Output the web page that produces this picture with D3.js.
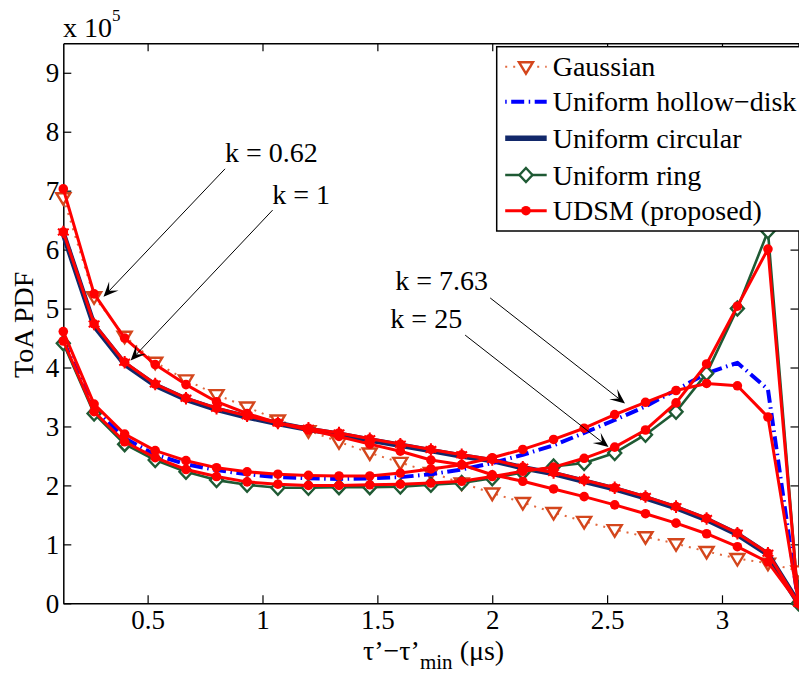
<!DOCTYPE html>
<html>
<head>
<meta charset="utf-8">
<script src="https://cdn.jsdelivr.net/npm/d3@7"></script>
<style>
  html, body { margin: 0; padding: 0; background: #fff; }
  svg { display: block; }
  svg text { font-family: "Liberation Serif", "Tinos", "Times New Roman", Times, "DejaVu Serif", serif !important; fill: #000; }
</style>
</head>
<body>
<svg id="chart" width="799" height="675"></svg>
<script>
// Delay grid (µs), relative to the minimum delay
const tauValues = [0.133, 0.267, 0.400, 0.533, 0.667, 0.800, 0.933, 1.067, 1.200, 1.333,
                   1.467, 1.600, 1.733, 1.867, 2.000, 2.133, 2.267, 2.400, 2.533, 2.667,
                   2.800, 2.933, 3.067, 3.200, 3.333];

// ToA PDF values (x 10^5)
const gaussianK062 = [6.88, 5.20, 4.53, 4.09, 3.79, 3.54, 3.33, 3.11, 2.93, 2.74, 2.55, 2.39, 2.22,
                      2.04, 1.87, 1.71, 1.54, 1.39, 1.25, 1.13, 1.01, 0.88, 0.76, 0.68, 0.55];
const udsmK062     = [7.03, 5.25, 4.50, 4.05, 3.71, 3.42, 3.22, 3.06, 2.94, 2.83, 2.70, 2.58, 2.43,
                      2.35, 2.18, 2.07, 1.94, 1.81, 1.67, 1.52, 1.36, 1.18, 0.96, 0.70, 0.00];
const circularK1   = [6.27, 4.71, 4.06, 3.70, 3.46, 3.29, 3.16, 3.05, 2.95, 2.87, 2.77, 2.68, 2.59,
                      2.50, 2.42, 2.30, 2.20, 2.07, 1.94, 1.79, 1.62, 1.42, 1.17, 0.83, 0.00];
const udsmK1       = [6.30, 4.74, 4.09, 3.72, 3.48, 3.31, 3.18, 3.06, 2.97, 2.89, 2.79, 2.70, 2.61,
                      2.52, 2.44, 2.31, 2.22, 2.09, 1.96, 1.81, 1.64, 1.44, 1.19, 0.85, 0.00];
const hollowK763   = [4.45, 3.30, 2.80, 2.52, 2.36, 2.26, 2.19, 2.14, 2.12, 2.11, 2.12, 2.14, 2.19,
                      2.27, 2.38, 2.52, 2.68, 2.89, 3.11, 3.34, 3.62, 3.90, 4.08, 3.63, 0.00];
const udsmK763     = [4.61, 3.38, 2.87, 2.59, 2.42, 2.30, 2.23, 2.19, 2.17, 2.16, 2.16, 2.21, 2.28,
                      2.35, 2.47, 2.61, 2.78, 2.97, 3.20, 3.41, 3.61, 3.73, 3.69, 3.16, 0.00];
const ringK25      = [4.41, 3.22, 2.70, 2.43, 2.23, 2.09, 2.01, 1.96, 1.96, 1.97, 1.97, 1.98, 2.01,
                      2.04, 2.12, 2.22, 2.32, 2.38, 2.55, 2.86, 3.25, 3.90, 5.00, 6.31, 0.00];
const udsmK25      = [4.45, 3.25, 2.74, 2.47, 2.27, 2.15, 2.06, 2.02, 2.00, 2.00, 2.01, 2.02, 2.04,
                      2.07, 2.15, 2.24, 2.31, 2.46, 2.65, 2.94, 3.40, 4.06, 5.04, 6.01, 0.00];

const xTicks = [0.5, 1, 1.5, 2, 2.5, 3];
const yTicks = [0, 1, 2, 3, 4, 5, 6, 7, 8, 9];
const legendLabels = ["Gaussian", "Uniform hollow\u2212disk", "Uniform circular", "Uniform ring", "UDSM (proposed)"];

// Annotations: label, label anchor point, arrow start, arrow tip (data units)
const kLabels = ["k = 0.62", "k = 1", "k = 7.63", "k = 25"];
const kLabelPos = [[0.837, 7.49], [1.042, 6.77], [1.982, 5.31], [1.869, 4.67]];
const kLabelAnchor = ["start", "start", "end", "end"];
const kArrowFrom = [[0.837, 7.37], [1.044, 6.67], [1.991, 5.18], [1.882, 4.55]];
const kArrowTo = [[0.308, 5.20], [0.426, 4.12], [2.578, 3.39], [2.506, 2.65]];

// ---------------------------------------------------------------
const SERIF = '"Liberation Serif", "Tinos", "Times New Roman", Times, "DejaVu Serif", serif';
const svg = d3.select("#chart").style("font-family", SERIF);
const margin = { left: 63.3, top: 43.3 };
const plotW = 735.2, plotH = 560;

const x = d3.scaleLinear().domain([tauValues[0], tauValues[tauValues.length - 1]]).range([margin.left, margin.left + plotW]);
const y = d3.scaleLinear().domain([0, 9.5]).range([margin.top + plotH, margin.top]);

const colors = {
  gaussian: "#D4461C",
  gaussianLine: "#E2693F",
  hollow: "#0000FF",
  circular: "#12286A",
  ring: "#1F5A34",
  udsm: "#FF0000"
};

const lineGen = vals => d3.line().x((d, i) => x(tauValues[i])).y(d => y(d))(vals);

// Axes (ticks pointing inward, box around the plot)
const tickLen = 8;
const axB = svg.append("g").attr("transform", `translate(0,${y(0)})`)
  .call(d3.axisBottom(x).tickValues(xTicks).tickFormat(d3.format("")).tickSizeInner(-tickLen).tickSizeOuter(0).tickPadding(6.5));
const axT = svg.append("g").attr("transform", `translate(0,${y(9.5)})`)
  .call(d3.axisTop(x).tickValues(xTicks).tickFormat("").tickSizeInner(-tickLen).tickSizeOuter(0));
const axL = svg.append("g").attr("transform", `translate(${x.range()[0]},0)`)
  .call(d3.axisLeft(y).tickValues(yTicks).tickFormat(d3.format("d")).tickSizeInner(-tickLen).tickSizeOuter(0).tickPadding(4));
const axR = svg.append("g").attr("transform", `translate(${x.range()[1]},0)`)
  .call(d3.axisRight(y).tickValues(yTicks).tickFormat("").tickSizeInner(-tickLen).tickSizeOuter(0));

[axB, axT, axL, axR].forEach(g => {
  g.attr("font-family", SERIF);
  g.select(".domain").attr("stroke", "#000").attr("stroke-width", 1.5);
  g.selectAll(".tick line").attr("stroke", "#000").attr("stroke-width", 1.2);
  g.selectAll(".tick text").attr("font-size", 27).attr("fill", "#000");
});
axB.selectAll(".tick text").attr("dy", "0.71em");
axL.selectAll(".tick text").attr("dy", "0.33em");

// Exponent marker
const expo = svg.append("text").attr("x", 63).attr("y", 36.7).attr("font-size", 28).text("x 10");
expo.append("tspan").attr("font-size", 17).attr("dy", -16).text("5");

// Axis titles
svg.append("text")
  .attr("transform", `translate(33,${(y(0) + y(9.5)) / 2 + 1.5}) rotate(-90)`)
  .attr("text-anchor", "middle").attr("font-size", 28).text("ToA PDF");

const xl = svg.append("text").attr("x", 363).attr("y", 660).attr("font-size", 28);
xl.append("tspan").text("\u03C4\u2019\u2212\u03C4\u2019");
xl.append("tspan").attr("font-size", 21).attr("dy", 8.5).text("min");
xl.append("tspan").attr("dy", -8.5).text(" (\u03BCs)");

// ---------------------------------------------------------------
// Curves
const plot = svg.append("g");

function drawLine(vals, stroke, width, dash) {
  plot.append("path").attr("d", lineGen(vals)).attr("fill", "none")
    .attr("stroke", stroke).attr("stroke-width", width)
    .attr("stroke-linejoin", "round")
    .attr("stroke-dasharray", dash || null);
}

const triPath = "M-7,-4.5 L7,-4.5 L0,7 Z";
const diaPath = "M0,-7 L6.5,0 L0,7 L-6.5,0 Z";

function drawTriangles(vals) {
  plot.selectAll(null).data(vals).enter().append("path")
    .attr("d", triPath)
    .attr("transform", (d, i) => `translate(${x(tauValues[i])},${y(d)})`)
    .attr("fill", "#fff").attr("stroke", colors.gaussian).attr("stroke-width", 2.4);
}
function drawDiamonds(vals) {
  plot.selectAll(null).data(vals).enter().append("path")
    .attr("d", diaPath)
    .attr("transform", (d, i) => `translate(${x(tauValues[i])},${y(d)})`)
    .attr("fill", "#fff").attr("stroke", colors.ring).attr("stroke-width", 2.4);
}
function drawDots(vals, star) {
  const g = plot.append("g");
  g.selectAll(null).data(vals).enter().append("circle")
    .attr("cx", (d, i) => x(tauValues[i])).attr("cy", d => y(d)).attr("r", 4.8)
    .attr("fill", colors.udsm);
  if (star) {
    g.selectAll(null).data(vals).enter().append("path")
      .attr("d", d3.symbol(d3.symbolAsterisk, 110)())
      .attr("transform", (d, i) => `translate(${x(tauValues[i])},${y(d)})`)
      .attr("fill", "none").attr("stroke", colors.udsm).attr("stroke-width", 2);
  }
}

// k = 0.62: Gaussian vs UDSM
drawLine(gaussianK062, colors.gaussianLine, 2, "2,6");
drawTriangles(gaussianK062);
// k = 1: uniform circular vs UDSM
drawLine(circularK1, colors.circular, 5.5);
// k = 7.63: uniform hollow-disk vs UDSM
drawLine(hollowK763, colors.hollow, 4, "13,4.5,1.5,4.5");
// k = 25: uniform ring vs UDSM
drawLine(ringK25, colors.ring, 2.6);
drawDiamonds(ringK25);

// UDSM curves on top
[udsmK062, udsmK1, udsmK763, udsmK25].forEach(v => drawLine(v, colors.udsm, 3));
drawDots(udsmK062, false);
drawDots(udsmK1, true);
drawDots(udsmK763, false);
drawDots(udsmK25, false);

// ---------------------------------------------------------------
// Annotations with arrows
const ann = svg.append("g");
kLabels.forEach((lab, i) => {
  ann.append("text").attr("x", x(kLabelPos[i][0])).attr("y", y(kLabelPos[i][1]))
    .attr("text-anchor", kLabelAnchor[i]).attr("font-size", 28).text(lab);
  const sx = x(kArrowFrom[i][0]), sy = y(kArrowFrom[i][1]);
  const tx = x(kArrowTo[i][0]), ty = y(kArrowTo[i][1]);
  const dx = tx - sx, dy = ty - sy, len = Math.hypot(dx, dy);
  const ux = dx / len, uy = dy / len, nx = -uy, ny = ux;
  const L = 15, W = 6.5, notch = 0.55 * L;
  ann.append("line").attr("x1", sx).attr("y1", sy)
    .attr("x2", tx - ux * notch).attr("y2", ty - uy * notch)
    .attr("stroke", "#000").attr("stroke-width", 1);
  const pts = [
    [tx, ty],
    [tx - ux * L + nx * W, ty - uy * L + ny * W],
    [tx - ux * notch, ty - uy * notch],
    [tx - ux * L - nx * W, ty - uy * L - ny * W]
  ];
  ann.append("path").attr("d", "M" + pts.map(p => p.join(",")).join("L") + "Z").attr("fill", "#000");
});

// ---------------------------------------------------------------
// Legend
const leg = svg.append("g").attr("transform", "translate(496.7,46.7)");
leg.append("rect").attr("x", 0).attr("y", 0).attr("width", 330).attr("height", 184.3)
  .attr("fill", "#fff").attr("stroke", "#000").attr("stroke-width", 1.5);
const rowY = [20, 55, 91.6, 128.3, 164];
const sx0 = 8.5, sx1 = 50, mid = (sx0 + sx1) / 2;
legendLabels.forEach((lab, i) => {
  const g = leg.append("g").attr("transform", `translate(0,${rowY[i]})`);
  if (i === 0) {
    g.append("line").attr("x1", sx0).attr("x2", sx1).attr("stroke", colors.gaussianLine).attr("stroke-width", 2).attr("stroke-dasharray", "2,6");
    g.append("path").attr("d", triPath).attr("transform", `translate(${mid},0)`).attr("fill", "#fff").attr("stroke", colors.gaussian).attr("stroke-width", 2.4);
  } else if (i === 1) {
    g.append("line").attr("x1", sx0).attr("x2", sx1).attr("stroke", colors.hollow).attr("stroke-width", 4).attr("stroke-dasharray", "1.5,4.5,13,4.5");
  } else if (i === 2) {
    g.append("line").attr("x1", sx0).attr("x2", sx1).attr("stroke", colors.circular).attr("stroke-width", 5.5);
  } else if (i === 3) {
    g.append("line").attr("x1", sx0).attr("x2", sx1).attr("stroke", colors.ring).attr("stroke-width", 2.6);
    g.append("path").attr("d", diaPath).attr("transform", `translate(${mid},0)`).attr("fill", "#fff").attr("stroke", colors.ring).attr("stroke-width", 2.4);
  } else {
    g.append("line").attr("x1", sx0).attr("x2", sx1).attr("stroke", colors.udsm).attr("stroke-width", 3);
    g.append("circle").attr("cx", mid).attr("r", 4.8).attr("fill", colors.udsm);
  }
  g.append("text").attr("x", 56).attr("y", 9.5).attr("font-size", 28).text(lab);
});
</script>
</body>
</html>
